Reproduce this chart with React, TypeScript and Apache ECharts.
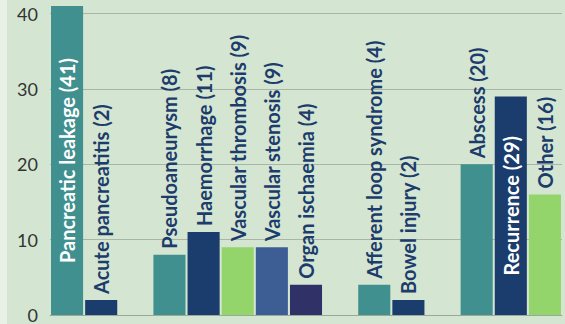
import React, { useEffect, useRef } from "react";
import * as echarts from "echarts";

const categories = [
  "Pancreatic leakage",
  "Acute pancreatitis",
  "",
  "Pseudoaneurysm",
  "Haemorrhage",
  "Vascular thrombosis",
  "Vascular stenosis",
  "Organ ischaemia",
  "",
  "Afferent loop syndrome",
  "Bowel injury",
  "",
  "Abscess",
  "Recurrence",
  "Other",
];
const counts: (number | null)[] = [41, 2, null, 8, 11, 9, 9, 4, null, 4, 2, null, 20, 29, 16];
const insideLabelled = ["Pancreatic leakage", "Recurrence"];
const yTicks = [0, 10, 20, 30, 40];

const barColors = [
  "#40908f", "#1a3d6d", "", "#40908f", "#1a3d6d", "#93d56a", "#3d5e95", "#2f3167",
  "", "#40908f", "#1a3d6d", "", "#40908f", "#1a3d6d", "#93d56a",
];

const FONT = "Lato";

export default function App() {
  const ref = useRef<HTMLDivElement>(null);
  useEffect(() => {
    if (!ref.current) return;
    const chart = echarts.init(ref.current, undefined, { renderer: "svg" });
    const data = counts.map((v, i) => {
      if (v === null) return "-";
      const inside = insideLabelled.includes(categories[i]);
      return {
        value: v,
        itemStyle: { color: barColors[i] },
        label: inside
          ? { position: "inside", color: "#ffffff", align: "center", verticalAlign: "middle" }
          : { position: "top", color: "#1c3c6c", align: "left", verticalAlign: "middle", distance: 6 },
      };
    });
    chart.setOption({
      animation: false,
      backgroundColor: "#d4e6d1",
      grid: { left: 43, right: 3, top: 0, bottom: 4, containLabel: false },
      xAxis: {
        type: "category",
        data: categories,
        axisLine: { show: true, lineStyle: { color: "#9aa89a", width: 1 } },
        axisTick: { show: false },
        axisLabel: { show: false },
      },
      yAxis: {
        type: "value",
        min: 0,
        max: 41.8,
        interval: 10,
        axisLine: { show: false },
        axisTick: { show: false },
        axisLabel: {
          color: "#333333",
          fontFamily: FONT,
          fontSize: 18,
          margin: 12,
          showMaxLabel: false,
          formatter: (v: number) => (yTicks.includes(v) ? String(v) : ""),
        },
        splitLine: { show: true, showMaxLine: false, lineStyle: { color: "#a8b6a7", width: 1 } },
      },
      series: [
        {
          type: "bar",
          data,
          barCategoryGap: "6%",
          label: {
            show: true,
            rotate: 90,
            fontFamily: FONT,
            fontSize: 20,
            fontWeight: "bold",
            formatter: (p: any) => `${p.name} (${p.value})`,
          },
        },
      ],
    });
    return () => chart.dispose();
  }, []);
  return (
    <div style={{ position: "fixed", left: 0, top: 0, width: 565, height: 324, background: "#e9f1e6" }}>
      <div ref={ref} style={{ position: "absolute", left: 7, top: 0, width: 558, height: 324 }} />
    </div>
  );
}
